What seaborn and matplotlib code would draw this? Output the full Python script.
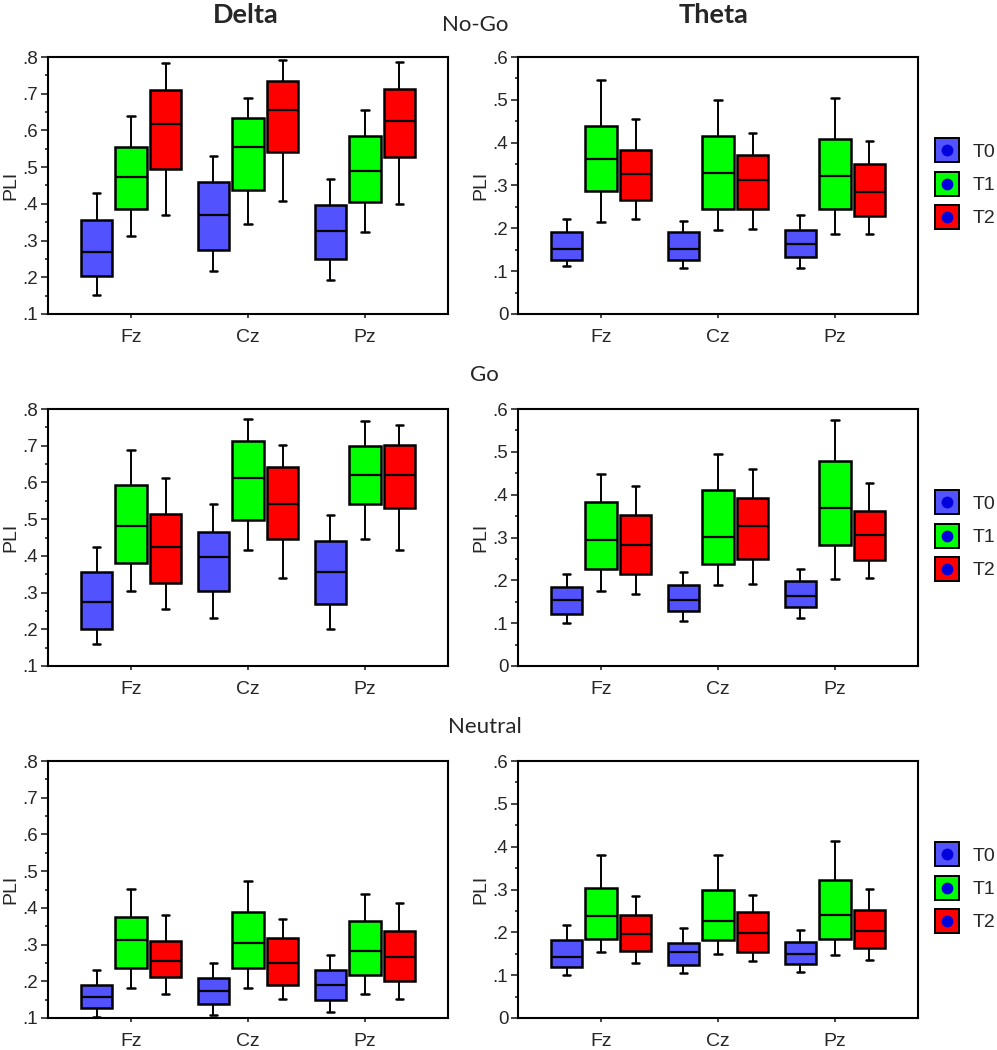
import numpy as np
import pandas as pd
import matplotlib
matplotlib.use("Agg")
import matplotlib.pyplot as plt
import seaborn as sns
from matplotlib.lines import Line2D
from matplotlib.markers import MarkerStyle
from matplotlib.ticker import MultipleLocator, FuncFormatter

electrodes = ["Fz", "Cz", "Pz"]
times = ["T0", "T1", "T2"]
conditions = ["No-Go", "Go", "Neutral"]
bands = ["Delta", "Theta"]

# five-number summaries: [low whisker, Q1, median, Q3, high whisker]
# outer list = T0, T1, T2 ; inner list = Fz, Cz, Pz
delta_nogo = [
    [[.152, .204, .268, .355, .429], [.217, .275, .370, .460, .529], [.193, .249, .326, .398, .467]],
    [[.313, .385, .472, .554, .638], [.345, .439, .556, .635, .687], [.323, .404, .489, .585, .655]],
    [[.371, .496, .618, .711, .785], [.408, .541, .655, .735, .791], [.400, .528, .626, .714, .787]],
]
theta_nogo = [
    [[.111, .125, .152, .191, .221], [.107, .125, .152, .191, .218], [.107, .134, .163, .196, .232]],
    [[.214, .287, .361, .440, .547], [.197, .245, .329, .416, .500], [.187, .245, .323, .408, .505]],
    [[.221, .267, .326, .384, .455], [.199, .245, .312, .371, .422], [.187, .228, .284, .350, .405]],
]
delta_go = [
    [[.161, .202, .274, .355, .425], [.231, .303, .397, .465, .542], [.202, .270, .355, .441, .511]],
    [[.303, .380, .481, .592, .689], [.417, .497, .611, .713, .773], [.445, .541, .620, .700, .766]],
    [[.254, .327, .425, .514, .612], [.339, .445, .542, .641, .701], [.417, .530, .620, .701, .757]],
]
theta_go = [
    [[.101, .121, .153, .185, .215], [.104, .129, .154, .190, .219], [.112, .137, .163, .199, .226]],
    [[.175, .227, .293, .382, .449], [.188, .237, .302, .410, .495], [.202, .282, .368, .479, .574]],
    [[.167, .215, .282, .352, .421], [.191, .250, .327, .393, .459], [.206, .247, .307, .361, .427]],
]
delta_neutral = [
    [[.103, .128, .157, .190, .231], [.108, .138, .174, .210, .250], [.116, .149, .190, .231, .271]],
    [[.181, .235, .312, .375, .452], [.181, .235, .303, .389, .474], [.165, .218, .283, .365, .437]],
    [[.165, .211, .254, .311, .380], [.153, .191, .250, .319, .371], [.153, .201, .266, .337, .413]],
]
theta_neutral = [
    [[.101, .120, .143, .181, .216], [.105, .123, .153, .174, .209], [.108, .125, .150, .177, .205]],
    [[.153, .184, .237, .304, .380], [.149, .182, .227, .299, .380], [.146, .185, .240, .322, .413]],
    [[.128, .157, .195, .240, .285], [.133, .153, .199, .247, .288], [.136, .163, .202, .253, .302]],
]

panels = {
    ("No-Go", "Delta"): delta_nogo, ("No-Go", "Theta"): theta_nogo,
    ("Go", "Delta"): delta_go, ("Go", "Theta"): theta_go,
    ("Neutral", "Delta"): delta_neutral, ("Neutral", "Theta"): theta_neutral,
}

palette = {"T0": "#5252ff", "T1": "#00ff00", "T2": "#ff0000"}
dot_color = "#0000dd"
ylims = {"Delta": (0.1, 0.8), "Theta": (0.0, 0.6)}


def to_frame(summary):
    rows = []
    for t, per_time in zip(times, summary):
        for e, five in zip(electrodes, per_time):
            for v in five:
                rows.append({"electrode": e, "time": t, "PLI": v})
    return pd.DataFrame(rows)


def tick_fmt(v, pos):
    if abs(v) < 1e-9:
        return "0"
    return f"{v:.1f}".lstrip("0")


sns.set_style("white")
plt.rcParams["font.family"] = ["Liberation Sans", "DejaVu Sans"]
title_font = ["Lato", "DejaVu Sans"]

W, H = 997, 1050
fig = plt.figure(figsize=(W / 100, H / 100), dpi=100)

row_tops = [57, 409, 761]
col_lefts = {"Delta": 48, "Theta": 518}
ax_w, ax_h = 400, 257

for r, cond in enumerate(conditions):
    for band in bands:
        left = col_lefts[band]
        top = row_tops[r]
        ax = fig.add_axes([left / W, 1 - (top + ax_h) / H, ax_w / W, ax_h / H])
        df = to_frame(panels[(cond, band)])
        sns.boxplot(
            data=df, x="electrode", y="PLI", hue="time",
            order=electrodes, hue_order=times, palette=palette,
            saturation=1, whis=(0, 100), width=0.885, gap=0.085,
            linecolor="black", linewidth=1.8, legend=False, ax=ax,
            whiskerprops={"linewidth": 1.4}, capprops={"linewidth": 1.8},
            medianprops={"linewidth": 1.6},
        )
        # short caps like the original
        for c in ax.containers:
            for cap in getattr(c, "caps", []):
                xd = np.asarray(cap.get_xdata(), dtype=float)
                m = xd.mean()
                cap.set_xdata([m - 0.032, m + 0.032])

        ax.set_xlim(-0.71, 2.71)
        ax.set_ylim(*ylims[band])
        ax.yaxis.set_major_locator(MultipleLocator(0.1))
        ax.yaxis.set_minor_locator(MultipleLocator(0.05))
        ax.yaxis.set_major_formatter(FuncFormatter(tick_fmt))
        ax.tick_params(axis="y", which="major", direction="out", length=5, width=1.2,
                       pad=2, labelsize=13.5, left=True)
        ax.tick_params(axis="y", which="minor", direction="out", length=2.5, width=1.2, left=True)
        ax.tick_params(axis="x", direction="out", length=3, width=1.2, pad=8,
                       labelsize=14, bottom=True)
        ax.set_xlabel("")
        ax.set_ylabel("PLI", fontsize=14, labelpad=2)
        for sp in ax.spines.values():
            sp.set_visible(True)
            sp.set_color("black")
            sp.set_linewidth(1.5)

        if band == "Theta":
            square = MarkerStyle("s", joinstyle="miter")
            handles = [
                (Line2D([], [], ls="none", marker=square, ms=17, mfc=palette[t],
                        mec="black", mew=1.4),
                 Line2D([], [], ls="none", marker="o", ms=8.5, mfc=dot_color, mec="none"))
                for t in times
            ]
            ax.legend(handles, times, loc="center left", bbox_to_anchor=(1.0, 0.5),
                      frameon=False, handlelength=1.2, handletextpad=0.7,
                      labelspacing=0.8, fontsize=14)

fig.text(246 / W, 1 - 15 / H, "Delta", ha="center", va="center", fontsize=19.5,
         fontweight="bold", family=title_font)
fig.text(714 / W, 1 - 15 / H, "Theta", ha="center", va="center", fontsize=19.5,
         fontweight="bold", family=title_font)
cond_pos = {"No-Go": (475, 25), "Go": (484, 375), "Neutral": (485, 727)}
for cond, (x, y) in cond_pos.items():
    fig.text(x / W, 1 - y / H, cond, ha="center", va="center", fontsize=16, family=title_font)

fig.savefig("out.png", dpi=100)
